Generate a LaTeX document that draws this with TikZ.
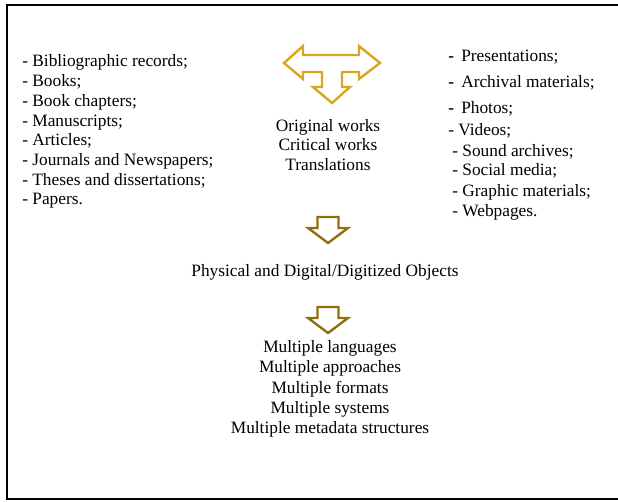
\documentclass[tikz,border=0pt]{standalone}
\usepackage{fontspec}
\setmainfont{Liberation Serif}
\usetikzlibrary{calc}
\definecolor{gold}{RGB}{218,165,32}
\definecolor{darkgold}{RGB}{145,110,15}

\begin{document}
\begin{tikzpicture}[x=0.75pt, y=-0.75pt, font=\fontsize{13}{15}\selectfont]
    \tikzset{
        item/.style={inner sep=0pt, anchor=base west},
        line/.style={inner sep=0pt, anchor=base},
        downarrow/.style={darkgold, line width=1.8pt, line join=miter}
    }
    \useasboundingbox (0,0) rectangle (618,502);

    % frame, cut off at the right
    \draw[line width=2.2pt] (7,5) rectangle (640,499);

    % left list
    \foreach \t [count=\i] in {Bibliographic records;, Books;, Book chapters;, Manuscripts;, Articles;, Journals and Newspapers;, Theses and dissertations;, Papers.}
        \node[item] (l\i) at (22, {67+19.7*(\i-1)}) {- \t};

    % right list
    \node[item] (r1) at (448,62) {{\bfseries -}\, Presentations;};
    \node[item] (r2) at (448,88) {{\bfseries -}\, Archival materials;};
    \node[item] (r3) at (448,114) {{\bfseries -}\, Photos;};
    \node[item] (r4) at (448,136) {- Videos;};
    \node[item] (r5) at (452,157) {- Sound archives;};
    \node[item] (r6) at (452,176) {- Social media;};
    \node[item] (r7) at (452,197) {- Graphic materials;};
    \node[item] (r8) at (452,217) {- Webpages.};

    % T shaped arrow
    \draw[gold, line width=1.8pt, line join=miter] (284,63) -- (303,46) -- (303,55) -- (359,55) -- (359,46) -- (380,63)
        -- (359,79) -- (359,72) -- (342,72) -- (342,87) -- (350,87) -- (332,103) -- (313,87) -- (322,87)
        -- (322,72) -- (303,72) -- (303,79) -- cycle;

    \node[line] (works1) at (328,132) {Original works};
    \node[line] (works2) at (328,151) {Critical works};
    \node[line] (works3) at (328,171) {Translations};

    % down arrows
    \coordinate (d1) at (328,217);
    \coordinate (d2) at (328,307);
    \foreach \d in {d1,d2}
        \draw[downarrow] (\d) ++(-10.5,0) -- ++(21,0) -- ++(0,11) -- ++(9.5,0) -- ++(-20,15) -- ++(-20,-15) -- ++(9.5,0) -- cycle;

    \node[line] (objects) at (325,277) {Physical and Digital/Digitized Objects};

    \foreach \t [count=\i] in {languages, approaches, formats, systems, metadata structures}
        \node[line] (m\i) at (330, {353+20*(\i-1)}) {Multiple \t};

\end{tikzpicture}
\end{document}
